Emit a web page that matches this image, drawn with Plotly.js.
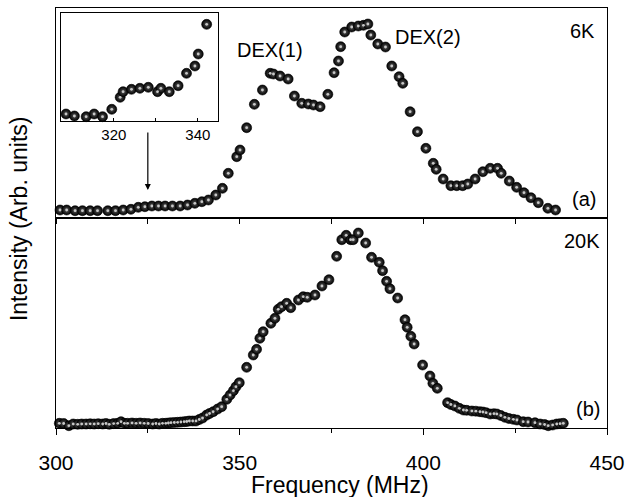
<!DOCTYPE html>
<html>
<head>
<meta charset="utf-8">
<script src="https://cdn.plot.ly/plotly-3.0.1.min.js"></script>
<style>html,body{margin:0;padding:0;background:#fff;}#chart{width:626px;height:497px;}</style>
</head>
<body>
<div id="chart"></div>
<script>
// 6 K spectrum (panel a)
const freq6K = [301.1,302.9,305.2,307.2,309.3,311.3,314.1,316.2,318.3,320.4,322.4,324.2,326.1,327.9,329.7,331.7,333.8,335.8,337.8,339.7,341.5,343.5,345.3,
  346.9,349.2,350.1,351.9,354.0,356.2,358.3,359.2,361.0,363.2,364.9,366.9,368.7,370.1,371.9,374.0,
  375.7,376.9,377.5,378.6,380.5,382.3,383.7,384.9,385.7,387.6,389.7,
  391.4,393.4,394.4,396.4,398.4,400.7,402.7,403.5,405.4,407.5,409.1,410.7,412.1,414.1,416.2,418.2,420.2,421.2,423.4,425.4,427.4,429.3,431.3,433.9,436.0];
const int6K = [8,8,7.3,7.3,7.3,7.3,7.3,7.3,8,8.7,10.7,11.3,12,12,12,12,12,13,14.7,16.3,18,23,29.7,
  44.7,61.3,68,90.3,113.7,128,144.7,144,142,139,122,114.7,114,113,111.3,123.7,
  145.3,157,171.3,186,191,192,192.7,194,183,174,171,
  152,141.3,134.7,106.3,86.3,69.7,54.7,48.7,39,32.3,32.3,32.3,34,39,46.3,49.7,49.7,44.7,37,30.7,25.3,20.3,15.3,9.7,8];

// 20 K spectrum (panel b)
const freq20K = [300.9,302.1,303.5,304.7,305.9,307.0,308.2,309.3,310.4,311.5,312.7,313.6,314.5,315.7,316.8,317.7,318.6,319.5,320.7,321.8,322.9,324.0,325.1,326.3,327.2,328.1,329.0,329.9,330.6,331.3,332.2,333.1,334.0,334.9,335.6,336.3,337.2,338.1,339.0,339.9,
  341.0,341.8,342.8,344.0,345.1,346.5,347.4,348.3,349.0,349.9,351.9,353.7,354.6,355.5,356.4,358.5,359.6,360.5,361.4,362.8,363.9,366.0,367.3,368.4,370.5,372.4,374.3,
  376.4,377.8,379.0,380.2,380.9,382.3,384.3,385.9,388.0,388.9,390.0,390.9,393.0,395.0,395.6,396.6,397.5,399.8,401.8,402.6,403.8,406.6,407.5,408.6,409.8,410.9,411.8,413.2,414.3,415.4,416.2,417.1,418.2,419.2,420.0,421.1,422.2,423.3,424.5,425.5,427.2,428.5,430.4,431.8,433.0,434.0,435.2,436.3,437.2,438.1];
const int20K = [4.7,4.5,2.3,4,3.7,4,4,4.2,4,4.3,4,4.5,3.7,4.4,4.7,6.3,4.7,4.7,5,4.7,5,4.7,4.5,4,4.5,4,4.7,4.7,5,5.3,5.5,5.7,6,6.3,6.5,7,7,7,8.5,10,
  13,14.5,16.3,19,21.3,28.7,33,37.3,41.3,45.3,60.7,73,78.7,89.7,96.3,104.7,109.7,118.7,121.3,124.7,120.3,128,131.3,130.7,133,142,148.3,
  171.7,188.3,192.7,188.3,188.3,195,185,170.7,165.7,157.3,146.7,139.3,130,108.3,100.7,91.7,84,63,52,44.7,39.7,25.3,23.5,22,19.7,18,17.7,17,16.8,16.3,16,15.3,14,14.3,14,12.5,10.7,9.5,8.7,8,6.3,6,5.3,4,3.5,2.3,3,4,4.3,4.7];

// inset (magnified 6 K low-frequency region)
const freqInset = [308.6,310.6,313.4,315.3,317.3,319.5,321.5,322.2,324.2,326.2,328.2,330.4,331.2,333.2,335.3,337.3,339.3,340.1,342.1];
const intInset = [7,5,4.3,7,4.3,11.7,23.7,29.3,31.7,32.7,33.7,29.3,32.7,29.3,35.3,47.7,55,67,96.7];

const mainTicks = [300,350,400,450];
const insetTicks = [320,330,340];
const insetTickText = ['320','','340'];

const FONT = 'Liberation Sans, Arial, Helvetica, sans-serif';
const ball = {size: 10, color: '#000', gradient: {type: 'radial', color: '#5a5a5a'}, line: {width: 0.6, color: '#000'}};
const shine = {size: 2.8, color: '#c8c8c8', line: {width: 0}};

function pair(xs, ys, xa, ya) {
  return [
    {x: xs, y: ys, xaxis: xa, yaxis: ya, mode: 'markers', type: 'scatter', marker: ball, cliponaxis: false, hoverinfo: 'none'},
    {x: xs, y: ys, xaxis: xa, yaxis: ya, mode: 'markers', type: 'scatter', marker: shine, cliponaxis: false, hoverinfo: 'none'}
  ];
}

const traces = [].concat(
  pair(freq6K, int6K, 'x', 'y'),
  pair(freq20K, int20K, 'x2', 'y2'),
  pair(freqInset, intInset, 'x3', 'y3')
);

const axLine = {showline: true, linecolor: '#000', linewidth: 1.3, mirror: true, showgrid: false, zeroline: false};

const layout = {
  width: 626, height: 497,
  margin: {l: 56, r: 19, t: 8, b: 69},
  paper_bgcolor: '#fff', plot_bgcolor: '#fff',
  showlegend: false,
  font: {family: FONT, color: '#000', size: 20},
  xaxis: Object.assign({}, axLine, {domain: [0, 1], anchor: 'y', range: [300, 450], ticks: 'outside', ticklen: 5, tickwidth: 1, tickcolor: '#000', tick0: 300, dtick: 25, showticklabels: false}),
  yaxis: Object.assign({}, axLine, {domain: [0.5, 1], anchor: 'x', range: [0, 210], ticks: '', showticklabels: false}),
  xaxis2: Object.assign({}, axLine, {domain: [0, 1], anchor: 'y2', range: [300, 450], ticks: 'outside', ticklen: 6, tickwidth: 1, tickcolor: '#000', tickvals: mainTicks, ticklabelstandoff: 9, tickfont: {size: 21, family: FONT, color: '#000'},
    minor: {tickvals: [325, 375, 425], ticks: 'outside', ticklen: 4, tickcolor: '#000', tickwidth: 1}}),
  yaxis2: Object.assign({}, axLine, {domain: [0, 0.5], anchor: 'x2', range: [0, 210], ticks: '', showticklabels: false}),
  xaxis3: Object.assign({}, axLine, {domain: [0.009, 0.294], anchor: 'y3', range: [307.4, 344.8], ticks: 'inside', ticklen: 3, tickwidth: 1, tickcolor: '#000', tickvals: insetTicks, ticktext: insetTickText, tickfont: {size: 15, family: FONT, color: '#000'}}),
  yaxis3: Object.assign({}, axLine, {domain: [0.731, 0.988], anchor: 'x3', range: [0, 108], ticks: '', showticklabels: false}),
  annotations: [
    {xref: 'paper', yref: 'paper', x: 0.325, y: 0.9, text: 'DEX(1)', showarrow: false, xanchor: 'left', yanchor: 'middle', font: {size: 20}},
    {xref: 'paper', yref: 'paper', x: 0.612, y: 0.93, text: 'DEX(2)', showarrow: false, xanchor: 'left', yanchor: 'middle', font: {size: 20}},
    {xref: 'paper', yref: 'paper', x: 0.982, y: 0.945, text: '6K', showarrow: false, xanchor: 'right', yanchor: 'middle', font: {size: 20}},
    {xref: 'paper', yref: 'paper', x: 0.984, y: 0.545, text: '(a)', showarrow: false, xanchor: 'right', yanchor: 'middle', font: {size: 20}},
    {xref: 'paper', yref: 'paper', x: 0.991, y: 0.445, text: '20K', showarrow: false, xanchor: 'right', yanchor: 'middle', font: {size: 20}},
    {xref: 'paper', yref: 'paper', x: 0.991, y: 0.045, text: '(b)', showarrow: false, xanchor: 'right', yanchor: 'middle', font: {size: 20}},
    {xref: 'paper', yref: 'paper', x: -0.067, y: 0.4976, text: 'Intensity (Arb. units)', textangle: -90, showarrow: false, xanchor: 'center', yanchor: 'middle', font: {size: 23}},
    {xref: 'paper', yref: 'paper', x: 0.5154, y: -0.136, text: 'Frequency (MHz)', showarrow: false, xanchor: 'center', yanchor: 'middle', font: {size: 23}},
    {xref: 'x', yref: 'y', x: 325, y: 28, axref: 'x', ayref: 'y', ax: 325, ay: 87, text: '', showarrow: true, arrowhead: 2, arrowsize: 1, arrowwidth: 1.2, arrowcolor: '#000'}
  ]
};

Plotly.newPlot('chart', traces, layout, {staticPlot: true, displayModeBar: false});
</script>
</body>
</html>
